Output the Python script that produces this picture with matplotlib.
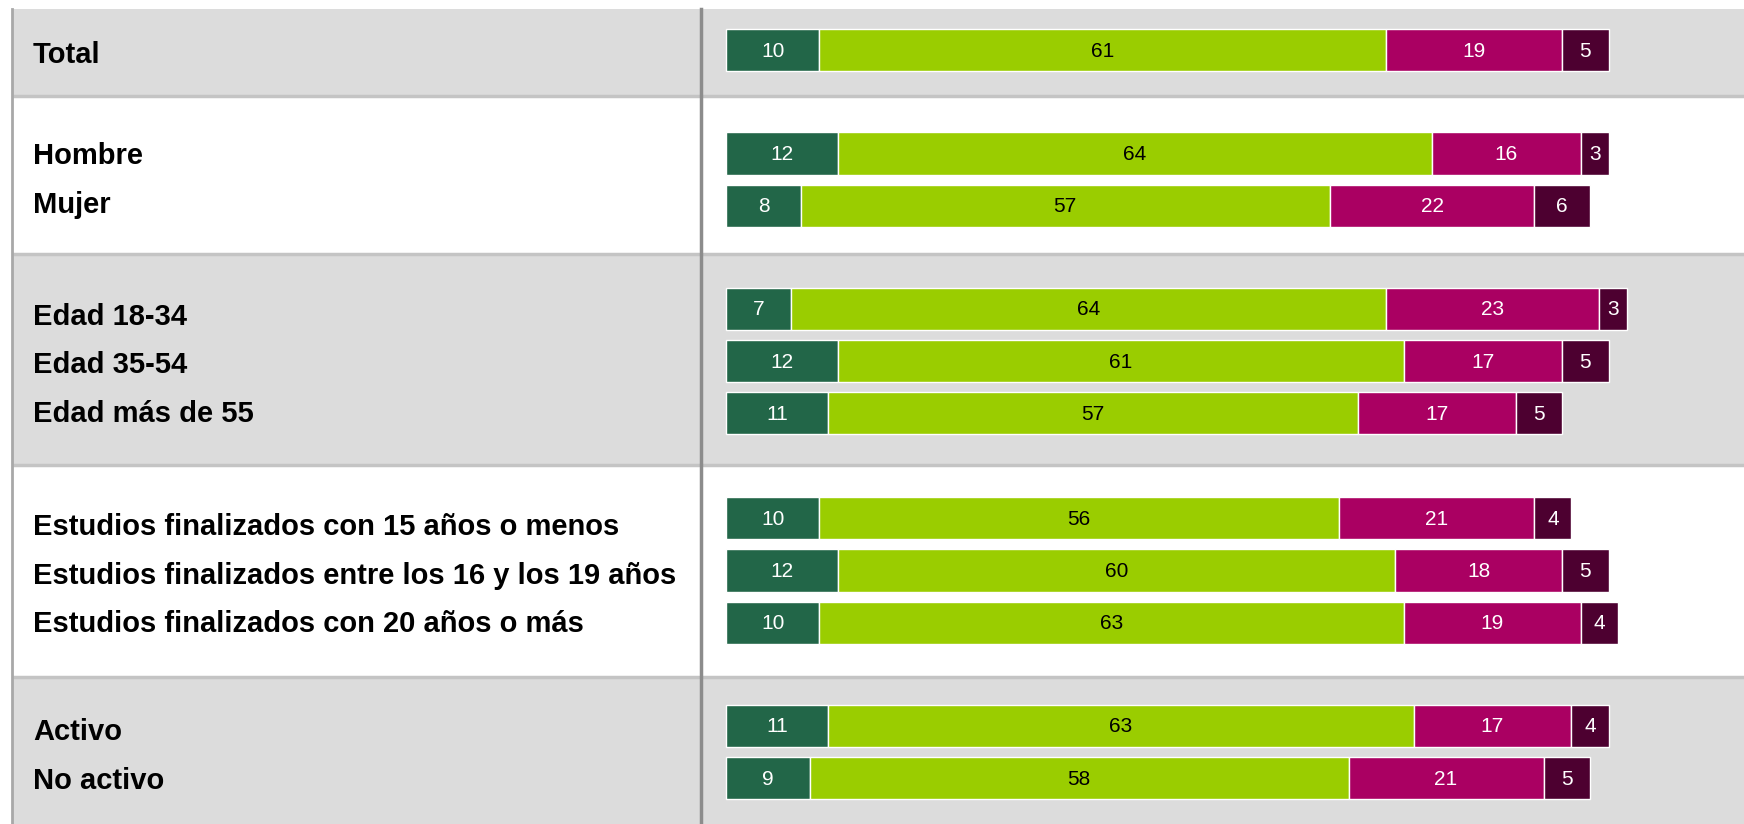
import matplotlib
matplotlib.use("Agg")
import matplotlib.pyplot as plt
from matplotlib.patches import Rectangle

# ---- data ----
groups = [
    ["Total"],
    ["Hombre", "Mujer"],
    ["Edad 18-34", "Edad 35-54", "Edad más de 55"],
    ["Estudios finalizados con 15 años o menos",
     "Estudios finalizados entre los 16 y los 19 años",
     "Estudios finalizados con 20 años o más"],
    ["Activo", "No activo"],
]
serie1 = [10, 12, 8, 7, 12, 11, 10, 12, 10, 11, 9]
serie2 = [61, 64, 57, 64, 61, 57, 56, 60, 63, 63, 58]
serie3 = [19, 16, 22, 23, 17, 17, 21, 18, 19, 17, 21]
serie4 = [5, 3, 6, 3, 5, 5, 4, 5, 4, 4, 5]

# ---- style / layout ----
W, H = 1744, 824
colors = ["#226648", "#9ACD00", "#AA0062", "#4D0030"]
text_colors = ["white", "black", "white", "white"]
band_colors = ["#DCDCDC", "#FFFFFF"]
band_edges = [9, 96, 254, 465, 677, 830]
bar_offsets = [-2.5, 4.5, 1.5, -0.5, -1.5]
label_offsets = [2.5, 5.5, 5.5, 4.5, 3.0]
bar_spacing = 52.3
label_spacing = 48.5
bar_h = 42.3
x0_px = 726.3        # pixel where value 0 lies
px_per_unit = 9.287

plt.rcParams['font.family'] = ['Liberation Sans', 'DejaVu Sans']

fig = plt.figure(figsize=(W / 100, H / 100), dpi=100)
bg = fig.add_axes([0, 0, 1, 1])
bg.set_xlim(0, W)
bg.set_ylim(H, 0)
bg.axis("off")

ax = fig.add_axes([0, 0, 1, 1], zorder=2)
ax.patch.set_alpha(0)
ax.set_xlim(-x0_px / px_per_unit, (W - x0_px) / px_per_unit)
ax.set_ylim(H, 0)
ax.axis("off")

# background bands
for gi in range(len(groups)):
    top, bot = band_edges[gi], band_edges[gi + 1]
    bg.add_patch(Rectangle((12, top), W - 12, bot - top,
                           facecolor=band_colors[gi % 2], edgecolor="none", zorder=0))
    if gi > 0:
        bg.plot([12, W], [top, top], color="#C4C4C4", lw=2.5, zorder=1,
                solid_capstyle="butt")

# left border and divider
bg.plot([12, 12], [9, H], color="#A8A8A8", lw=2, zorder=1)
bg.plot([700.7, 700.7], [9, H], color="#8C8C8C", lw=2.5, zorder=1)

# rows
ys = []
for gi, grp in enumerate(groups):
    top, bot = band_edges[gi], band_edges[gi + 1]
    mid = (top + bot) / 2
    n = len(grp)
    for i, lab in enumerate(grp):
        off = i - (n - 1) / 2
        ys.append(mid + bar_offsets[gi] + off * bar_spacing)
        bg.text(33, mid + label_offsets[gi] + off * label_spacing, lab,
                ha="left", va="center", fontsize=21, fontweight="bold",
                color="black", zorder=3)

series = [serie1, serie2, serie3, serie4]
left = [0] * len(ys)
for si, vals in enumerate(series):
    ax.barh(ys, vals, left=left, height=bar_h, color=colors[si],
            edgecolor="white", linewidth=1.0, zorder=2)
    for y, l, v in zip(ys, left, vals):
        ax.text(l + v / 2, y + 1, str(v), ha="center", va="center",
                fontsize=15, color=text_colors[si], zorder=3)
    left = [l + v for l, v in zip(left, vals)]

fig.savefig("out.png", dpi=100, facecolor="white")
